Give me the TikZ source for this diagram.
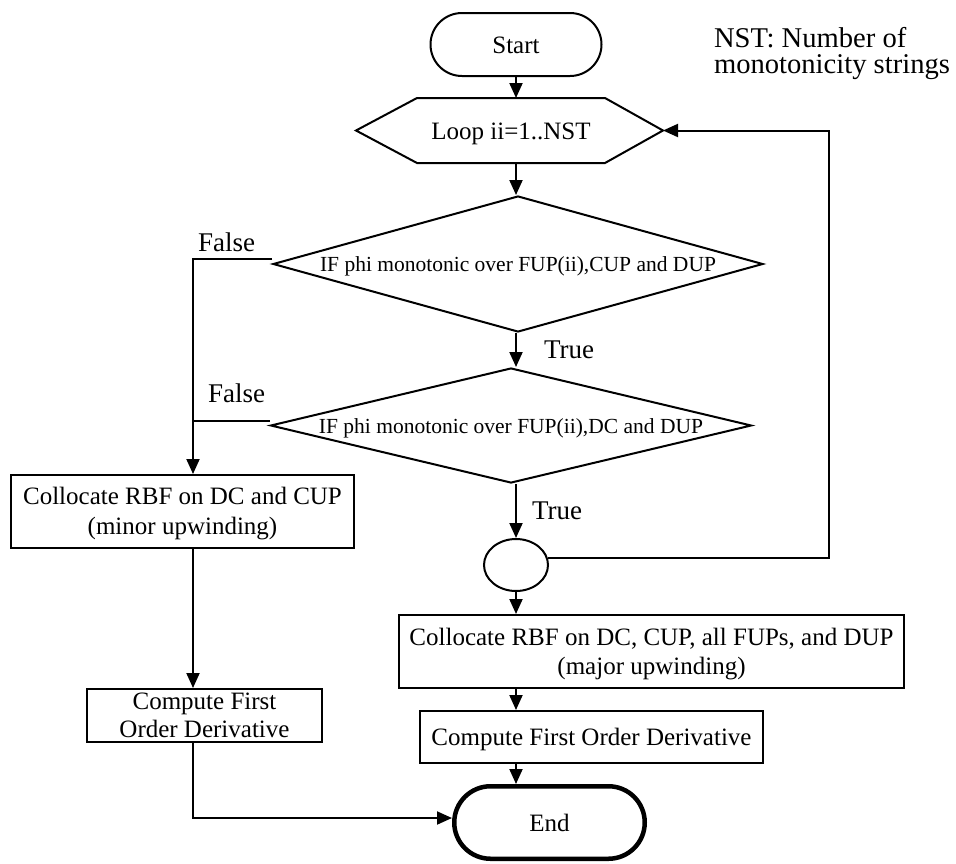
\documentclass[tikz,border=0pt]{standalone}
\usepackage{fontspec}
\setmainfont{Liberation Serif}
\usetikzlibrary{shapes.geometric,shapes.misc,arrows.meta}
\begin{document}
\begin{tikzpicture}[x=1pt,y=-1pt,
  line width=2pt,
  arr/.style={-{Triangle[length=15pt,width=13pt]}},
  boxfont/.style={font=\fontsize{25}{29.5}\selectfont},
  lblfont/.style={font=\fontsize{27}{30}\selectfont},
  dfont/.style={font=\fontsize{21.5}{25}\selectfont},
  procbox/.style={draw, rectangle, inner sep=0pt, align=center, boxfont},
  term/.style={draw, rounded rectangle, inner sep=0pt, boxfont, text height=17.5pt, text depth=0pt},
  decision/.style={draw, diamond, inner sep=0pt, dfont, text height=15pt, text depth=0pt},
  lbl/.style={inner sep=0pt, anchor=base west, lblfont}
]
\useasboundingbox (0,0) rectangle (956,863);

% terminals
\node[term, minimum width=171pt, minimum height=63pt] (start) at (516,44.5) {Start};
\node[term, line width=4.5pt, minimum width=190.5pt, minimum height=72.5pt] (endn) at (549.5,822.5) {End};

% loop hexagon
\node[inner sep=0pt, boxfont, text height=17.5pt, text depth=0pt, minimum width=186pt, minimum height=63pt] (loop) at (511,130.5) {Loop ii=1..NST};
\coordinate (loopW) at (356,130.5);
\coordinate (loopE) at (663,130.5);
\draw (loopW) -- (loop.north west) -- (loop.north east) -- (loopE) -- (loop.south east) -- (loop.south west) -- cycle;

% decisions
\node[decision, aspect=3.6, minimum width=490pt, minimum height=136pt] (d1) at (518,264) {IF phi monotonic over FUP(ii),CUP and DUP};
\node[decision, aspect=4.18, minimum width=481pt, minimum height=115pt] (d2) at (511,425.5) {IF phi monotonic over FUP(ii),DC and DUP};

% connector circle
\node[draw, ellipse, inner sep=0pt, minimum width=64pt, minimum height=52pt] (circ) at (516,565) {};

% process boxes
\node[procbox, minimum width=343pt, minimum height=73pt] (box1) at (182.5,511.5) {\rule{0pt}{21pt}Collocate RBF on DC and CUP\\(minor upwinding)};
\node[procbox, font=\fontsize{25}{28}\selectfont, minimum width=235pt, minimum height=53pt] (box2) at (204.5,715.5) {Compute First\\Order Derivative};
\node[procbox, minimum width=505pt, minimum height=73pt] (box3) at (651.5,651.5) {\rule{0pt}{22pt}Collocate RBF on DC, CUP, all FUPs, and DUP\\(major upwinding)};
\node[procbox, text height=17.5pt, text depth=0pt, minimum width=343pt, minimum height=52pt] (box4) at (591.5,737) {Compute First Order Derivative};

% labels
\node[lbl] (false1) at (197,251) {False};
\node[lbl] (false2) at (207,402) {False};
\node[lbl] (true1) at (543,358) {True};
\node[lbl] (true2) at (531,519) {True};
\node[inner sep=0pt, anchor=base west, align=left, font=\fontsize{28.6}{26}\selectfont] (note) at (713,73) {NST: Number of\\monotonicity strings};

% connectors
\coordinate (fx) at (193,0);
\coordinate (rx) at (829,0);
\draw[arr] (start.south) -- (start.south |- loop.north);
\draw[arr] (start |- loop.south) -- (start |- d1.north);
\draw[arr] (start |- d1.south) -- (start |- d2.north);
\draw[arr] (start |- d2.south) -- (circ.north);
\draw[arr] (circ.south) -- (circ.south |- box3.north);
\draw[arr] (circ |- box3.south) -- (circ |- box4.north);
\draw[arr] (circ |- box4.south) -- (circ |- endn.north);
\draw[arr] (circ.12) -| (rx |- loopE) -- (loopE);
\draw[arr] ([yshift=5pt]d1.west) -| (fx |- box1.north);
\draw ([yshift=5pt]d2.west) -- ([yshift=5pt]d2.west -| fx);
\draw[arr] (fx |- box1.south) -- (fx |- box2.north);
\draw[arr] (fx |- box2.south) |- ([yshift=4.5pt]endn.west);
\end{tikzpicture}
\end{document}
